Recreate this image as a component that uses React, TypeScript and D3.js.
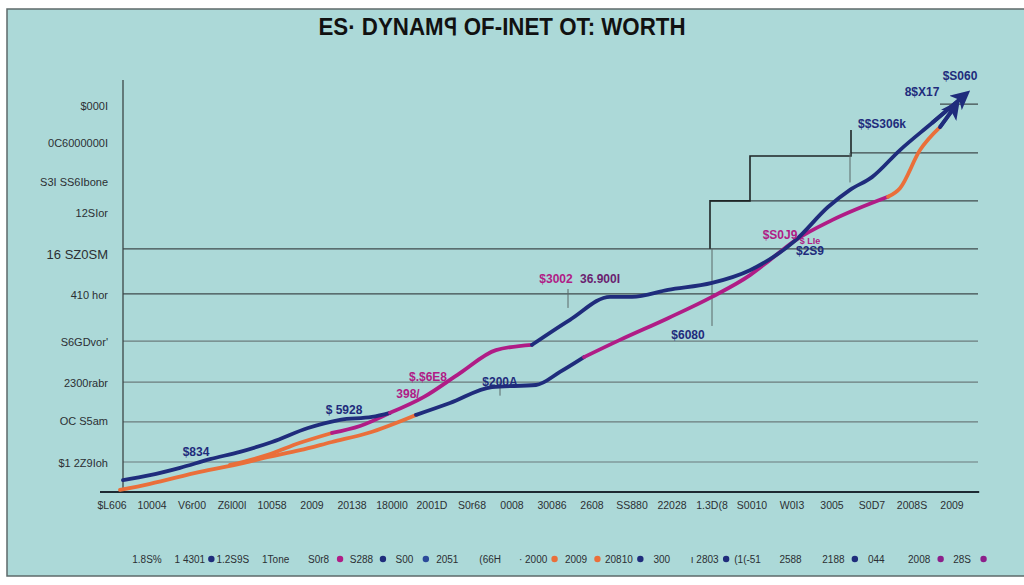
import React from "react";
import * as d3 from "d3";

const W = 1024;
const H = 585;

const TITLE = "ES· DYNAMꟼ OF-INET OT: WORTH";

const NAVY = "#1f2c7c";
const MAGENTA = "#b01c86";
const ORANGE = "#ea6f3a";
const PURPLE = "#8c1f8a";
const BLUE = "#2b4a9a";

// x tick labels (categories)
const xLabels = [
  "$L606", "10004", "V6r00", "Z6l00l", "10058", "2009", "20138", "1800l0",
  "2001D", "S0r68", "0008", "30086", "2608", "SS880", "22028", "1.3D(8",
  "S0010", "W0I3", "3005", "S0D7", "2008S", "2009",
];

// y tick labels bottom-up, with their values
const yLabels = [
  "$1 2Z9Ioh", "OC S5am", "2300rabr", "S6GDvor'", "410 hor", "16   SZ0SM",
  "12SIor", "S3I SS6Ibone", "0C6000000I", "$000I",
];
const yLabelValues = [7.1, 17.3, 26.6, 36.6, 48.0, 58.0, 68.0, 75.6, 85.1, 94.1];

// grid lines: value and start (t)
const gridValues = [7.3, 17.1, 26.8, 36.8, 48.3, 59.3, 71.0, 82.7, 94.6];
const gridStarts = [0.275, 0.275, 0.275, 0.275, 0.275, 0.275, 14.95, 18.475, 20.7];
const gridEnd = 21.65;

// step outline
const stepT = [14.95, 14.95, 15.95, 15.95, 18.475, 18.475];
const stepV = [59.3, 71.0, 71.0, 81.95, 81.95, 88.3];

// series: t, v, colour of segment ending at the point
const seriesA_t = [0.275, 0.95, 1.7, 2.45, 3.2, 4.0, 4.9, 5.7, 6.5, 6.95, 7.8, 8.7, 9.6, 10.5, 11.45, 12.45, 13.0, 13.9, 15.0, 15.95, 17.1, 17.9, 18.45, 19.0, 19.7, 20.5, 21.2];
const seriesA_v = [2.9, 4.1, 5.9, 8.0, 9.8, 12.2, 15.6, 17.6, 18.3, 19.3, 23.2, 29.0, 34.6, 35.9, 42.0, 47.6, 47.6, 49.3, 51.0, 54.1, 61.5, 69.5, 73.7, 76.8, 83.4, 90.0, 95.8];
const seriesA_c = ["", NAVY, NAVY, NAVY, NAVY, NAVY, NAVY, NAVY, NAVY, NAVY, MAGENTA, MAGENTA, MAGENTA, MAGENTA, NAVY, NAVY, NAVY, NAVY, NAVY, NAVY, NAVY, NAVY, NAVY, NAVY, NAVY, NAVY, NAVY];

const seriesB_t = [0.2, 0.95, 2.2, 3.3, 3.8, 4.7, 5.5, 6.4, 7.6, 8.45, 9.5, 10.6, 11.2, 11.8, 12.7, 13.9, 15.0, 15.95, 16.45, 17.1, 18.0, 19.4, 19.7, 20.2, 20.7, 21.0];
const seriesB_v = [0.5, 2.0, 4.9, 7.1, 8.3, 10.2, 12.2, 14.4, 18.8, 21.7, 25.6, 26.1, 29.3, 32.9, 37.1, 42.4, 47.6, 52.9, 56.6, 61.5, 66.3, 72.0, 74.1, 83.4, 89.0, 93.0];
const seriesB_c = ["", ORANGE, ORANGE, ORANGE, ORANGE, ORANGE, ORANGE, ORANGE, ORANGE, NAVY, NAVY, NAVY, NAVY, NAVY, MAGENTA, MAGENTA, MAGENTA, MAGENTA, MAGENTA, MAGENTA, MAGENTA, MAGENTA, ORANGE, ORANGE, ORANGE, NAVY];

const seriesC_t = [2.95, 3.875, 4.7, 5.5, 6.2, 6.95];
const seriesC_v = [6.6, 9.0, 12.0, 14.4, 16.1, 19.3];
const seriesC_c = ["", ORANGE, ORANGE, ORANGE, MAGENTA, MAGENTA];

// annotations
const annText = ["$S060", "8$X17", "$$S306k", "$S0J9", "$ LIe", "$2S9", "$6080", "$3002", "36.900I", "$200A", "$.$6E8", "398/", "$ 5928", "$834"];
const annT = [21.2, 20.25, 19.25, 16.7, 17.45, 17.45, 14.4, 11.1, 12.2, 9.7, 7.9, 7.4, 5.8, 2.1];
const annV = [101.5, 97.5, 89.8, 62.8, 61.3, 58.8, 38.3, 51.9, 52.1, 26.8, 28.0, 23.9, 20.0, 9.8];
const annColor = [NAVY, NAVY, NAVY, MAGENTA, MAGENTA, NAVY, NAVY, MAGENTA, "#6a1f70", NAVY, MAGENTA, MAGENTA, NAVY, NAVY];

// legend (dot drawn after the label, between it and the next one)
const legendLabels = ["1.8S%", "1 4301", "1.2S9S", "1Tone", "S0r8", "S288", "S00", "2051", "(66H", "· 2000", "2009", "20810", "300", "ı 2803", "(1(-51", "2588", "2188", "044", "2008", "28S"];
const legendDots = ["", NAVY, "", "", MAGENTA, NAVY, BLUE, "", "", ORANGE, ORANGE, NAVY, "", NAVY, "", "", NAVY, "", PURPLE, PURPLE];

const x = d3.scaleLinear().domain([0, 21]).range([112, 952]);
const y = d3.scaleLinear().domain([0, 100]).range([492, 82]);
const xTick = d3.scalePoint<number>().domain(d3.range(xLabels.length)).range([112, 952]);
const legendX = d3.scalePoint<number>().domain(d3.range(legendLabels.length + 1)).range([147, 1005]);

function segments(ts: number[], vs: number[], cs: string[]) {
  const out: { d: string; c: string }[] = [];
  const line = d3.line<[number, number]>().x((p) => x(p[0])).y((p) => y(p[1])).curve(d3.curveMonotoneX);
  let start = 0;
  for (let i = 1; i < ts.length; i++) {
    const last = i === ts.length - 1 || cs[i + 1] !== cs[i];
    if (last) {
      const pts: [number, number][] = [];
      for (let j = start; j <= i; j++) pts.push([ts[j], vs[j]]);
      out.push({ d: line(pts) || "", c: cs[i] });
      start = i;
    }
  }
  return out;
}

export default function App() {
  const segA = segments(seriesA_t, seriesA_v, seriesA_c);
  const segB = segments(seriesB_t, seriesB_v, seriesB_c);
  const segC = segments(seriesC_t, seriesC_v, seriesC_c);
  const stepLine = d3.line<number>().x((_, i) => x(stepT[i])).y((v) => y(v))(stepV) || "";
  const font = "'Liberation Sans Narrow', 'Liberation Sans', Arial, sans-serif";

  return (
    <svg width={W} height={H} style={{ position: "absolute", left: 0, top: 0, background: "#ffffff" }} fontFamily={font}>
      <defs>
        <marker id="arrNavy" viewBox="0 0 10 10" refX="3" refY="5" markerWidth="5" markerHeight="5" orient="auto">
          <path d="M0,0 L10,5 L0,10 L2.5,5 Z" fill={NAVY} />
        </marker>
      </defs>
      <rect x={7} y={9} width={1030} height={567} fill="#acd9d8" stroke="#5d6a6a" strokeWidth={1.5} />
      <text x={502} y={35} textAnchor="middle" fontSize={24} fontWeight="bold" fill="#111" textLength={367} lengthAdjust="spacingAndGlyphs">
        {TITLE}
      </text>

      {/* grid */}
      {gridValues.map((v, i) => (
        <line key={"g" + i} x1={x(gridStarts[i])} x2={x(gridEnd)} y1={y(v)} y2={y(v)}
          stroke={i >= 4 ? "#3f4a4c" : "#6b7b7c"} strokeWidth={i >= 4 ? 1.3 : 1.1} />
      ))}
      <path d={stepLine} fill="none" stroke="#1e2526" strokeWidth={1.6} />
      <line x1={x(15.0)} x2={x(15.0)} y1={y(59.3)} y2={y(40.5)} stroke="#5b6869" strokeWidth={1} />
      <line x1={x(11.4)} x2={x(11.4)} y1={y(49.5)} y2={y(44.9)} stroke="#5b6869" strokeWidth={1} />
      <line x1={x(18.45)} x2={x(18.45)} y1={y(82.7)} y2={y(75.5)} stroke="#5b6869" strokeWidth={1} />
      <line x1={x(9.7)} x2={x(9.7)} y1={y(26.8)} y2={y(23.5)} stroke="#5b6869" strokeWidth={1} />

      {/* axes */}
      <line x1={123} x2={123} y1={y(100.5)} y2={y(0)} stroke="#3c4647" strokeWidth={1.3} />
      <line x1={x(-0.3)} x2={x(21.68)} y1={y(0)} y2={y(0)} stroke="#1d2a33" strokeWidth={2} />

      {yLabels.map((l, i) => (
        <text key={"y" + i} x={108} y={y(yLabelValues[i])} dy="0.35em" textAnchor="end"
          fontSize={i === 5 ? 13 : 11} fill="#2b2f33">{l}</text>
      ))}
      {xLabels.map((l, i) => (
        <text key={"x" + i} x={xTick(i)} y={509} textAnchor="middle" fontSize={10.5} fill="#2b2f33">{l}</text>
      ))}

      {/* series */}
      {[...segC, ...segB, ...segA].map((s, i) => (
        <path key={"s" + i} d={s.d} fill="none" stroke={s.c} strokeWidth={3.8} strokeLinejoin="round" strokeLinecap="round" />
      ))}
      {/* arrow ends */}
      <line x1={x(seriesA_t[seriesA_t.length - 2])} y1={y(seriesA_v[seriesA_v.length - 2])}
        x2={x(seriesA_t[seriesA_t.length - 1])} y2={y(seriesA_v[seriesA_v.length - 1])}
        stroke={NAVY} strokeWidth={3.8} markerEnd="url(#arrNavy)" />
      <line x1={x(seriesB_t[seriesB_t.length - 2])} y1={y(seriesB_v[seriesB_v.length - 2])}
        x2={x(seriesB_t[seriesB_t.length - 1])} y2={y(seriesB_v[seriesB_v.length - 1])}
        stroke={NAVY} strokeWidth={3.8} markerEnd="url(#arrNavy)" />

      {annText.map((t, i) => (
        <text key={"a" + i} x={x(annT[i])} y={y(annV[i])} dy="0.35em" textAnchor="middle"
          fontSize={i === 4 ? 9 : 12} fontWeight="bold" fill={annColor[i]}>{t}</text>
      ))}

      {/* legend */}
      {legendLabels.map((l, i) => {
        const cx = legendX(i) as number;
        const nx = legendX(i + 1) as number;
        return (
          <g key={"l" + i}>
            <text x={cx} y={563} textAnchor="middle" fontSize={10} fill="#2b2f33">{l}</text>
            {legendDots[i] ? <circle cx={(cx + nx) / 2} cy={559} r={3.2} fill={legendDots[i]} /> : null}
          </g>
        );
      })}
    </svg>
  );
}
